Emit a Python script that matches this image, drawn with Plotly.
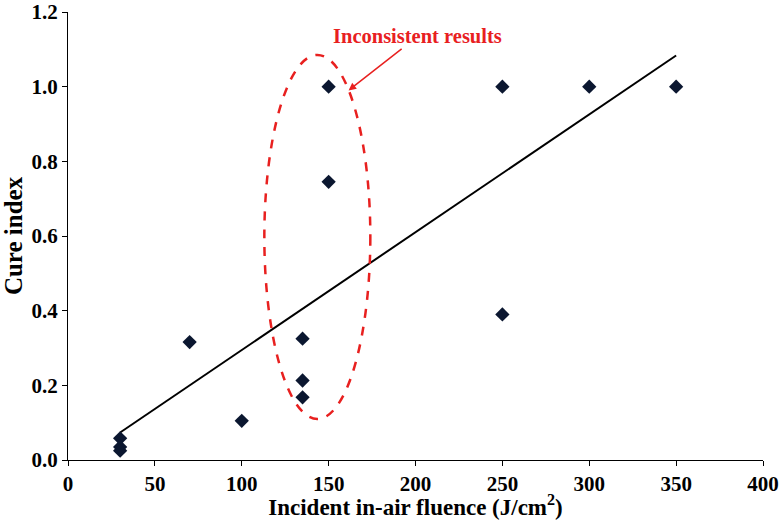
import numpy as np
import plotly.graph_objects as go

fluence = [30, 30, 30, 70, 100, 135, 135, 135, 150, 150, 250, 250, 300, 350]
cure_index = [0.058, 0.035, 0.025, 0.316, 0.105, 0.325, 0.213, 0.168, 1.0, 0.745, 1.0, 0.39, 1.0, 1.0]

x_ticks = [0, 50, 100, 150, 200, 250, 300, 350, 400]
y_ticks = [0.0, 0.2, 0.4, 0.6, 0.8, 1.0, 1.2]

slope, intercept = np.polyfit(fluence, cure_index, 1)
fit_x = [min(fluence), max(fluence)]
fit_y = [slope * v + intercept for v in fit_x]

font_family = "Liberation Serif"

fig = go.Figure()
fig.add_trace(go.Scatter(x=fit_x, y=fit_y, mode="lines",
                         line=dict(color="black", width=2), showlegend=False))
fig.add_trace(go.Scatter(x=fluence, y=cure_index, mode="markers",
                         marker=dict(symbol="diamond", size=11, color="#0b1730"),
                         showlegend=False))

fig.add_shape(type="circle", xref="x", yref="y", x0=113, x1=174, y0=0.11, y1=1.085,
              line=dict(color="#e8201f", width=2.5, dash="dash"))

fig.add_annotation(x=161.5, y=0.99, xref="x", yref="y",
                   text="Inconsistent results", showarrow=True,
                   ax=69, ay=-54, arrowhead=2, arrowsize=1, arrowwidth=1.5,
                   arrowcolor="#e8201f",
                   font=dict(family=font_family, size=20.5, color="#e8201f", weight="bold"))

# y-axis title (placed as annotation to match reference position)
fig.add_annotation(x=-0.079, y=0.5, xref="paper", yref="paper",
                   text="Cure index", showarrow=False, textangle=-90,
                   xanchor="center", yanchor="middle",
                   font=dict(family=font_family, size=25, color="black", weight="bold"))

axis_common = dict(showline=True, linecolor="black", linewidth=1, ticks="outside",
                   ticklen=5, tickcolor="black", showgrid=False, zeroline=False,
                   tickfont=dict(family=font_family, size=21, color="black", weight="bold"))

fig.update_xaxes(range=[0, 400], tickvals=x_ticks,
                 title=dict(text="Incident in-air fluence (J/cm<sup>2</sup>)",
                            font=dict(family=font_family, size=23, color="black", weight="bold"),
                            standoff=4),
                 **axis_common)
fig.update_yaxes(range=[0, 1.2], tickvals=y_ticks, tickformat=".1f",
                 **axis_common)

fig.update_layout(width=780, height=520,
                  margin=dict(l=68, r=17, t=12, b=60, autoexpand=False),
                  plot_bgcolor="white", paper_bgcolor="white")

fig.write_html("out.html", config={"displayModeBar": False},
               post_script="document.body.style.margin='0';document.body.style.overflow='hidden';")
